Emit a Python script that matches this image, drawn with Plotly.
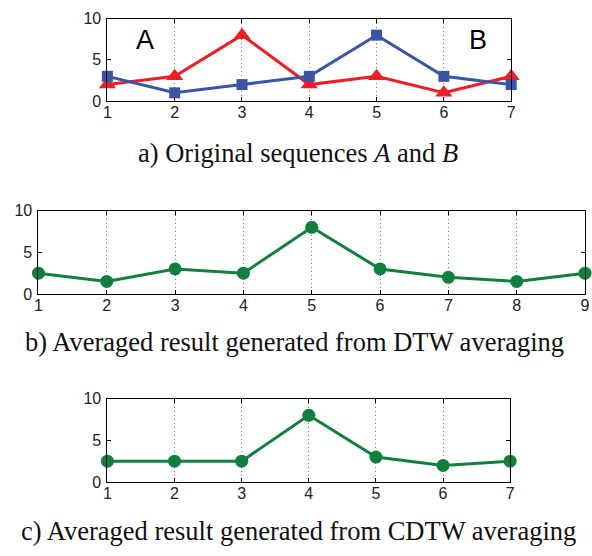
import plotly.graph_objects as go

# Sequences and averaged results
x_ab = [1, 2, 3, 4, 5, 6, 7]
seq_a = [2, 3, 8, 2, 3, 1, 3]
seq_b = [3, 1, 2, 3, 8, 3, 2]

x_dtw = [1, 2, 3, 4, 5, 6, 7, 8, 9]
dtw_avg = [2.5, 1.5, 3, 2.5, 8, 3, 2, 1.5, 2.5]

x_cdtw = [1, 2, 3, 4, 5, 6, 7]
cdtw_avg = [2.5, 2.5, 2.5, 8, 3, 2, 2.5]

y_ticks = [0, 5, 10]

RED = "#ec1f27"
BLUE = "#3a55a6"
GREEN = "#11803f"

W, H = 592, 556


def px_x(p):
    return p / W


def px_y(p):
    return 1 - p / H


fig = go.Figure()

fig.add_trace(go.Scatter(x=x_ab, y=seq_a, mode="lines+markers", cliponaxis=False,
                         line=dict(color=RED, width=3),
                         marker=dict(symbol="triangle-up", size=15, color=RED),
                         xaxis="x", yaxis="y"))
fig.add_trace(go.Scatter(x=x_ab, y=seq_b, mode="lines+markers", cliponaxis=False,
                         line=dict(color=BLUE, width=3),
                         marker=dict(symbol="square", size=11, color=BLUE),
                         xaxis="x", yaxis="y"))
fig.add_trace(go.Scatter(x=x_dtw, y=dtw_avg, mode="lines+markers", cliponaxis=False,
                         line=dict(color=GREEN, width=3),
                         marker=dict(symbol="circle", size=13, color=GREEN),
                         xaxis="x2", yaxis="y2"))
fig.add_trace(go.Scatter(x=x_cdtw, y=cdtw_avg, mode="lines+markers", cliponaxis=False,
                         line=dict(color=GREEN, width=3),
                         marker=dict(symbol="circle", size=13, color=GREEN),
                         xaxis="x3", yaxis="y3"))

SANS = "Arial, Liberation Sans, Helvetica, sans-serif"
SERIF = "Times New Roman, Liberation Serif, Times, serif"

tick_font = dict(family=SANS, size=16, color="#222")


def xaxis(xs, dom, anchor):
    return dict(domain=dom, anchor=anchor, range=[xs[0], xs[-1]], tickvals=xs,
                showline=True, linecolor="black", linewidth=1, mirror="ticks",
                ticks="inside", ticklen=4, tickcolor="black",
                showgrid=True, gridcolor="#777", griddash="1px,3px", gridwidth=1,
                zeroline=False, tickfont=tick_font, ticklabelstandoff=-3,
                fixedrange=True)


def yaxis(dom, anchor):
    return dict(domain=dom, anchor=anchor, range=[0, 10], tickvals=y_ticks,
                showline=True, linecolor="black", linewidth=1, mirror="ticks",
                ticks="inside", ticklen=4, tickcolor="black",
                showgrid=False, zeroline=False, tickfont=tick_font,
                ticklabelstandoff=2, fixedrange=True)


caption_font = dict(family=SERIF, size=26.5, color="#111")
letter_font = dict(family=SANS, size=27, color="black")

fig.update_layout(
    width=W, height=H,
    margin=dict(l=0, r=0, t=0, b=0),
    paper_bgcolor="white", plot_bgcolor="white",
    showlegend=False,
    xaxis=xaxis(x_ab, [px_x(105), px_x(515)], "y"),
    yaxis=yaxis([px_y(96), px_y(11)], "x"),
    xaxis2=xaxis(x_dtw, [px_x(35), px_x(590)], "y2"),
    yaxis2=yaxis([px_y(295), px_y(209)], "x2"),
    xaxis3=xaxis(x_cdtw, [px_x(105), px_x(514)], "y3"),
    yaxis3=yaxis([px_y(489), px_y(403)], "x3"),
    annotations=[
        dict(x=1.56, y=7.4, xref="x", yref="y", text="A", showarrow=False, font=letter_font),
        dict(x=6.5, y=7.4, xref="x", yref="y", text="B", showarrow=False, font=letter_font),
        dict(x=px_x(299), y=px_y(150), xref="paper", yref="paper",
             text="a) Original sequences <i>A</i> and <i>B</i>", showarrow=False,
             font=caption_font, xanchor="center", yanchor="middle"),
        dict(x=px_x(295), y=px_y(345), xref="paper", yref="paper",
             text="b) Averaged result generated from DTW averaging", showarrow=False,
             font=caption_font, xanchor="center", yanchor="middle"),
        dict(x=px_x(299), y=px_y(540), xref="paper", yref="paper",
             text="c) Averaged result generated from CDTW averaging", showarrow=False,
             font=caption_font, xanchor="center", yanchor="middle"),
    ],
)

fig.write_html("out.html")
